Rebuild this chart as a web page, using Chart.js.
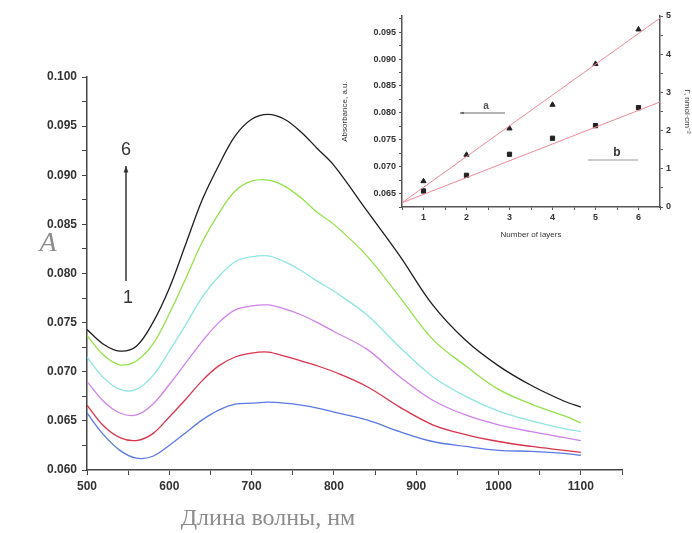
<!DOCTYPE html>
<html>
<head>
<meta charset="utf-8">
<script src="https://cdn.jsdelivr.net/npm/chart.js@4"></script>
<style>
  body { margin: 0; background: #fff; }
  #wrap { position: relative; width: 692px; height: 533px; }
  #main { position: absolute; left: 0; top: 0; }
  #inset { position: absolute; left: 340px; top: 0; }
</style>
</head>
<body>
<div id="wrap">
  <canvas id="main" width="692" height="533"></canvas>
  <canvas id="inset" width="352" height="240"></canvas>
</div>
<script>
// wavelength, nm
var wavelengths = [500, 520, 540, 560, 580, 600, 620, 640, 660, 680, 700, 720, 740, 760, 780, 800, 840, 880, 920, 960, 1000, 1040, 1080, 1100];

// absorbance, layers 1..6
var layer1 = [0.0658, 0.0636, 0.0620, 0.0612, 0.0614, 0.0625, 0.0638, 0.0651, 0.0661, 0.0667, 0.0668, 0.0669, 0.0668, 0.0666, 0.0663, 0.0659, 0.0651, 0.0639, 0.0629, 0.0624, 0.0620, 0.0619, 0.0617, 0.0615];
var layer2 = [0.0666, 0.0645, 0.0633, 0.0630, 0.0637, 0.0654, 0.0672, 0.0691, 0.0706, 0.0715, 0.0719, 0.0720, 0.0716, 0.0711, 0.0706, 0.0700, 0.0685, 0.0664, 0.0646, 0.0636, 0.0629, 0.0624, 0.0620, 0.0618];
var layer3 = [0.0690, 0.0670, 0.0658, 0.0656, 0.0667, 0.0687, 0.0709, 0.0731, 0.0750, 0.0763, 0.0767, 0.0768, 0.0764, 0.0758, 0.0750, 0.0741, 0.0723, 0.0695, 0.0671, 0.0656, 0.0646, 0.0639, 0.0633, 0.0630];
var layer4 = [0.0715, 0.0694, 0.0682, 0.0682, 0.0696, 0.0721, 0.0748, 0.0776, 0.0797, 0.0812, 0.0817, 0.0818, 0.0812, 0.0803, 0.0792, 0.0782, 0.0758, 0.0725, 0.0695, 0.0675, 0.0660, 0.0650, 0.0642, 0.0639];
var layer5 = [0.0737, 0.0717, 0.0707, 0.0711, 0.0728, 0.0759, 0.0795, 0.0832, 0.0861, 0.0884, 0.0894, 0.0895, 0.0889, 0.0877, 0.0862, 0.0850, 0.0818, 0.0776, 0.0733, 0.0706, 0.0682, 0.0667, 0.0655, 0.0648];
var layer6 = [0.0743, 0.0728, 0.0721, 0.0726, 0.0750, 0.0785, 0.0830, 0.0875, 0.0910, 0.0940, 0.0957, 0.0962, 0.0957, 0.0944, 0.0927, 0.0910, 0.0864, 0.0818, 0.0768, 0.0732, 0.0706, 0.0686, 0.0670, 0.0664];

var layerColors = ['#5b78e6', '#d8344c', '#cf82ea', '#8ee6e2', '#94e24a', '#1e1e1e'];

// inset
var layerNumbers = [1, 2, 3, 4, 5, 6];
var absAt720 = [0.0673, 0.0722, 0.0771, 0.0815, 0.0891, 0.0955];
var coverage = [0.42, 0.83, 1.38, 1.80, 2.13, 2.60];
var fitX = [0.5, 6.5];
var fitAbs = [0.0633, 0.0976];
var fitCoverage = [0.11, 2.75];

function pairs(xs, ys) {
    return xs.map(function (x, i) { return { x: x, y: ys[i] }; });
}

function isMultiple(v, step) {
    var r = v / step;
    return Math.abs(r - Math.round(r)) < 1e-6;
}

function arrow(ctx, x1, y1, x2, y2, head) {
    ctx.beginPath();
    ctx.moveTo(x1, y1);
    ctx.lineTo(x2, y2);
    ctx.stroke();
    var a = Math.atan2(y2 - y1, x2 - x1);
    ctx.beginPath();
    ctx.moveTo(x2, y2);
    ctx.lineTo(x2 - head * Math.cos(a - 0.35), y2 - head * Math.sin(a - 0.35));
    ctx.lineTo(x2 - head * Math.cos(a + 0.35), y2 - head * Math.sin(a + 0.35));
    ctx.closePath();
    ctx.fill();
}

var tickFont = { family: "'Liberation Sans Narrow', 'Liberation Sans', sans-serif", size: 12, weight: 'bold' };

var mainLabels = {
    id: 'mainLabels',
    afterDraw: function (chart) {
        var ctx = chart.ctx;
        ctx.save();
        ctx.fillStyle = '#8c8c8c';
        ctx.textAlign = 'center';
        ctx.textBaseline = 'middle';
        ctx.font = "italic 28px 'Liberation Serif', serif";
        ctx.fillText('A', 48, 244);
        ctx.font = "24px 'Liberation Serif', serif";
        ctx.fillText('Длина волны, нм', 268, 519);
        ctx.fillStyle = '#333';
        ctx.strokeStyle = '#333';
        ctx.lineWidth = 1.5;
        ctx.font = "18px 'Liberation Sans', sans-serif";
        ctx.fillText('6', 126, 150);
        ctx.fillText('1', 128, 298);
        arrow(ctx, 126, 281, 126, 166, 7);
        ctx.restore();
    }
};

var mainDatasets = [layer1, layer2, layer3, layer4, layer5, layer6].map(function (vals, i) {
    return {
        label: String(i + 1),
        data: pairs(wavelengths, vals),
        borderColor: layerColors[i],
        borderWidth: 1.3,
        pointRadius: 0,
        tension: 0.35
    };
});

new Chart(document.getElementById('main').getContext('2d'), {
    type: 'line',
    data: { datasets: mainDatasets },
    options: {
        responsive: false,
        animation: false,
        layout: { padding: { top: 77, right: 70, left: 0, bottom: 0 } },
        plugins: { legend: { display: false }, tooltip: { enabled: false } },
        scales: {
            x: {
                type: 'linear',
                min: 500,
                max: 1150,
                afterFit: function (s) { s.height = 63; },
                ticks: {
                    stepSize: 50,
                    includeBounds: false,
                    autoSkip: false,
                    maxRotation: 0,
                    color: '#333',
                    font: tickFont,
                    padding: 4,
                    callback: function (v) { return isMultiple(v, 100) ? String(v) : ''; }
                },
                grid: { drawOnChartArea: false, tickLength: 5, color: '#444' },
                border: { color: '#444', width: 1.5 }
            },
            y: {
                min: 0.06,
                max: 0.1,
                afterFit: function (s) { s.width = 87; },
                ticks: {
                    stepSize: 0.0025,
                    includeBounds: false,
                    autoSkip: false,
                    color: '#333',
                    font: tickFont,
                    padding: 5,
                    callback: function (v) { return isMultiple(v, 0.005) ? v.toFixed(3) : ''; }
                },
                grid: { drawOnChartArea: false, tickLength: 5, color: '#444' },
                border: { color: '#444', width: 1.5 }
            }
        }
    },
    plugins: [mainLabels]
});

var insetLabels = {
    id: 'insetLabels',
    afterDraw: function (chart) {
        var ctx = chart.ctx;
        ctx.save();
        ctx.fillStyle = '#555';
        ctx.strokeStyle = '#666';
        ctx.lineWidth = 1.2;
        ctx.textAlign = 'center';
        ctx.textBaseline = 'middle';
        ctx.font = "bold 10px 'Liberation Sans', sans-serif";
        arrow(ctx, 165, 113, 120, 113, 4);
        ctx.fillText('a', 146, 106);
        ctx.strokeStyle = '#999';
        ctx.beginPath();
        ctx.moveTo(248, 160);
        ctx.lineTo(298, 160);
        ctx.stroke();
        ctx.fillStyle = '#333';
        ctx.font = "bold 12px 'Liberation Sans', sans-serif";
        ctx.fillText('b', 277, 153);
        ctx.restore();
    }
};

var insetTick = { family: "'Liberation Sans Narrow', 'Liberation Sans', sans-serif", size: 9, weight: 'bold' };
var insetTitle = { family: "'Liberation Sans Narrow', 'Liberation Sans', sans-serif", size: 8 };

new Chart(document.getElementById('inset').getContext('2d'), {
    type: 'line',
    data: {
        datasets: [
            { data: pairs(fitX, fitAbs), yAxisID: 'yA', borderColor: '#ef8a9a', borderWidth: 1, pointRadius: 0 },
            { data: pairs(fitX, fitCoverage), yAxisID: 'yB', borderColor: '#ef8a9a', borderWidth: 1, pointRadius: 0 },
            { data: pairs(layerNumbers, absAt720), yAxisID: 'yA', showLine: false, pointStyle: 'triangle', pointRadius: 3, backgroundColor: '#222', borderColor: '#222' },
            { data: pairs(layerNumbers, coverage), yAxisID: 'yB', showLine: false, pointStyle: 'rect', pointRadius: 3, backgroundColor: '#222', borderColor: '#222' }
        ]
    },
    options: {
        responsive: false,
        animation: false,
        layout: { padding: { top: 16, right: 0, left: 0, bottom: 0 } },
        plugins: { legend: { display: false }, tooltip: { enabled: false } },
        scales: {
            x: {
                type: 'linear',
                min: 0.5,
                max: 6.5,
                afterFit: function (s) { s.height = 33; },
                ticks: {
                    stepSize: 0.5, includeBounds: false, autoSkip: false, maxRotation: 0,
                    color: '#333', font: insetTick, padding: 2,
                    callback: function (v) { return isMultiple(v, 1) ? String(v) : ''; }
                },
                title: { display: true, text: 'Number of layers', color: '#333', font: insetTitle, padding: 0 },
                grid: { drawOnChartArea: false, tickLength: 3, color: '#555' },
                border: { color: '#555', width: 1.5 }
            },
            yA: {
                position: 'left',
                min: 0.0625,
                max: 0.098,
                afterFit: function (s) { s.width = 62; },
                ticks: {
                    stepSize: 0.0025, includeBounds: false, autoSkip: false,
                    color: '#333', font: insetTick, padding: 3,
                    callback: function (v) { return isMultiple(v, 0.005) ? v.toFixed(3) : ''; }
                },
                title: { display: true, text: 'Absorbance, a.u.', color: '#333', font: insetTitle, padding: 0 },
                grid: { drawOnChartArea: false, tickLength: 3, color: '#555' },
                border: { color: '#555', width: 1.5 }
            },
            yB: {
                position: 'right',
                min: 0,
                max: 5,
                afterFit: function (s) { s.width = 32; },
                ticks: {
                    stepSize: 0.5, includeBounds: false, autoSkip: false,
                    color: '#333', font: insetTick, padding: 3,
                    callback: function (v) { return isMultiple(v, 1) ? String(v) : ''; }
                },
                title: { display: true, text: 'Γ, nmol·cm⁻²', color: '#333', font: insetTitle, padding: 0 },
                grid: { drawOnChartArea: false, tickLength: 3, color: '#555' },
                border: { color: '#555', width: 1.5 }
            }
        }
    },
    plugins: [insetLabels]
});
</script>
</body>
</html>
